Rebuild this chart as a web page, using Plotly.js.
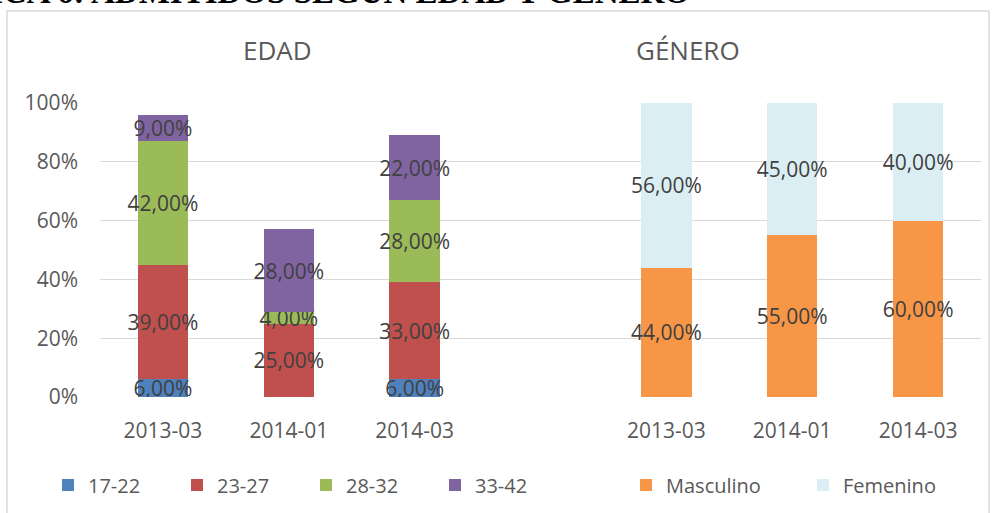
<!DOCTYPE html>
<html>
<head>
<meta charset="utf-8">
<script src="https://cdn.plot.ly/plotly-3.0.1.min.js"></script>
<style>html,body{margin:0;padding:0;background:#fff;}#chart{width:995px;height:513px;}</style>
</head>
<body>
<div id="chart"></div>
<script>
var periods = ["2013-03", "2014-01", "2014-03"];
var ageGroups = ["17-22", "23-27", "28-32", "33-42"];
var age1722 = [6, 0, 6];
var age2327 = [39, 25, 33];
var age2832 = [42, 4, 28];
var age3342 = [9, 28, 22];
var genders = ["Masculino", "Femenino"];
var masculino = [44, 55, 60];
var femenino = [56, 45, 40];
var panelTitles = ["EDAD", "GÉNERO"];
var chartTitle = "GRÁFICA 6: ADMITIDOS SEGÚN EDAD Y GÉNERO";

var ageColors = ["#4f81bd", "#c0504d", "#9bbb59", "#8064a2"];
var genderColors = ["#f79646", "#dbeef4"];
var FONT = "Open Sans, Noto Sans, sans-serif";

function fmt(v) { return v > 0 ? v.toFixed(2).replace(".", ",") + "%" : ""; }

var xAge = periods.map(function (p, i) { return i; });
var xGen = periods.map(function (p, i) { return i + periods.length + 1; });

function barTrace(name, x, y, color, legend) {
  return {
    type: "bar", name: name, x: x, y: y,
    marker: { color: color, line: { width: 0 } },
    width: 0.4,
    text: y.map(fmt),
    textposition: "inside",
    insidetextanchor: "middle",
    constraintext: "none",
    textangle: 0,
    textfont: { family: FONT, size: 21, color: "#404040" },
    hoverinfo: "skip",
    legend: legend
  };
}

var ageSeries = [age1722, age2327, age2832, age3342];
var traces = ageSeries.map(function (s, i) {
  return barTrace(ageGroups[i], xAge, s, ageColors[i], "legend");
});
traces.push(barTrace(genders[0], xGen, masculino, genderColors[0], "legend2"));
traces.push(barTrace(genders[1], xGen, femenino, genderColors[1], "legend2"));

var L = 100, R = 14, T = 103, B = 116, W = 995, H = 513;
var pw = W - L - R, ph = H - T - B;
function px(x) { return (x - L) / pw; }
function py(y) { return (H - B - y) / ph; }

var layout = {
  width: W, height: H,
  margin: { l: L, r: R, t: T, b: B, autoexpand: false },
  paper_bgcolor: "#fff", plot_bgcolor: "#fff",
  barmode: "stack",
  font: { family: FONT, size: 20, color: "#595959" },
  title: {
    text: "<b>" + chartTitle + "</b>",
    font: { family: "Liberation Serif, serif", size: 33, color: "#000" },
    xref: "container", yref: "container",
    x: 690 / W, xanchor: "right",
    y: 1 - 3 / H, yanchor: "bottom"
  },
  xaxis: {
    range: [-0.5, periods.length * 2 + 0.5],
    tickmode: "array",
    tickvals: xAge.concat(xGen),
    ticktext: periods.concat(periods),
    showgrid: false, zeroline: false, showline: false,
    ticks: "", ticklabelstandoff: 19,
    tickfont: { family: FONT, size: 21, color: "#595959" },
    fixedrange: true
  },
  yaxis: {
    range: [0, 100],
    dtick: 20, tick0: 0,
    ticksuffix: "%",
    showgrid: true, gridcolor: "#d9d9d9", gridwidth: 1.3,
    zeroline: false, showline: false,
    ticks: "", ticklabelstandoff: 21,
    tickfont: { family: FONT, size: 21, color: "#595959" },
    fixedrange: true
  },
  legend: {
    orientation: "h", xref: "container", yref: "container",
    x: 48 / W, xanchor: "left", y: 1 - 485 / H, yanchor: "middle",
    entrywidth: 84, traceorder: "normal",
    font: { family: FONT, size: 20, color: "#595959" },
    bgcolor: "rgba(0,0,0,0)"
  },
  legend2: {
    orientation: "h", xref: "container", yref: "container",
    x: 626 / W, xanchor: "left", y: 1 - 485 / H, yanchor: "middle",
    entrywidth: 132, traceorder: "normal",
    font: { family: FONT, size: 20, color: "#595959" },
    bgcolor: "rgba(0,0,0,0)"
  },
  annotations: [
    { text: panelTitles[0], xref: "paper", yref: "paper", x: px(277), y: py(50),
      xanchor: "center", yanchor: "middle", showarrow: false,
      font: { family: FONT, size: 26, color: "#595959" } },
    { text: panelTitles[1], xref: "paper", yref: "paper", x: px(688), y: py(50),
      xanchor: "center", yanchor: "middle", showarrow: false,
      font: { family: FONT, size: 26, color: "#595959" } }
  ],
  shapes: [
    { type: "rect", xref: "paper", yref: "paper",
      x0: px(7), x1: px(989), y0: py(11), y1: py(530),
      line: { color: "#d9d9d9", width: 1.5 }, fillcolor: "rgba(0,0,0,0)", layer: "below" }
  ],
  hovermode: false
};

Plotly.newPlot("chart", traces, layout, { displayModeBar: false, staticPlot: true });
</script>
</body>
</html>
